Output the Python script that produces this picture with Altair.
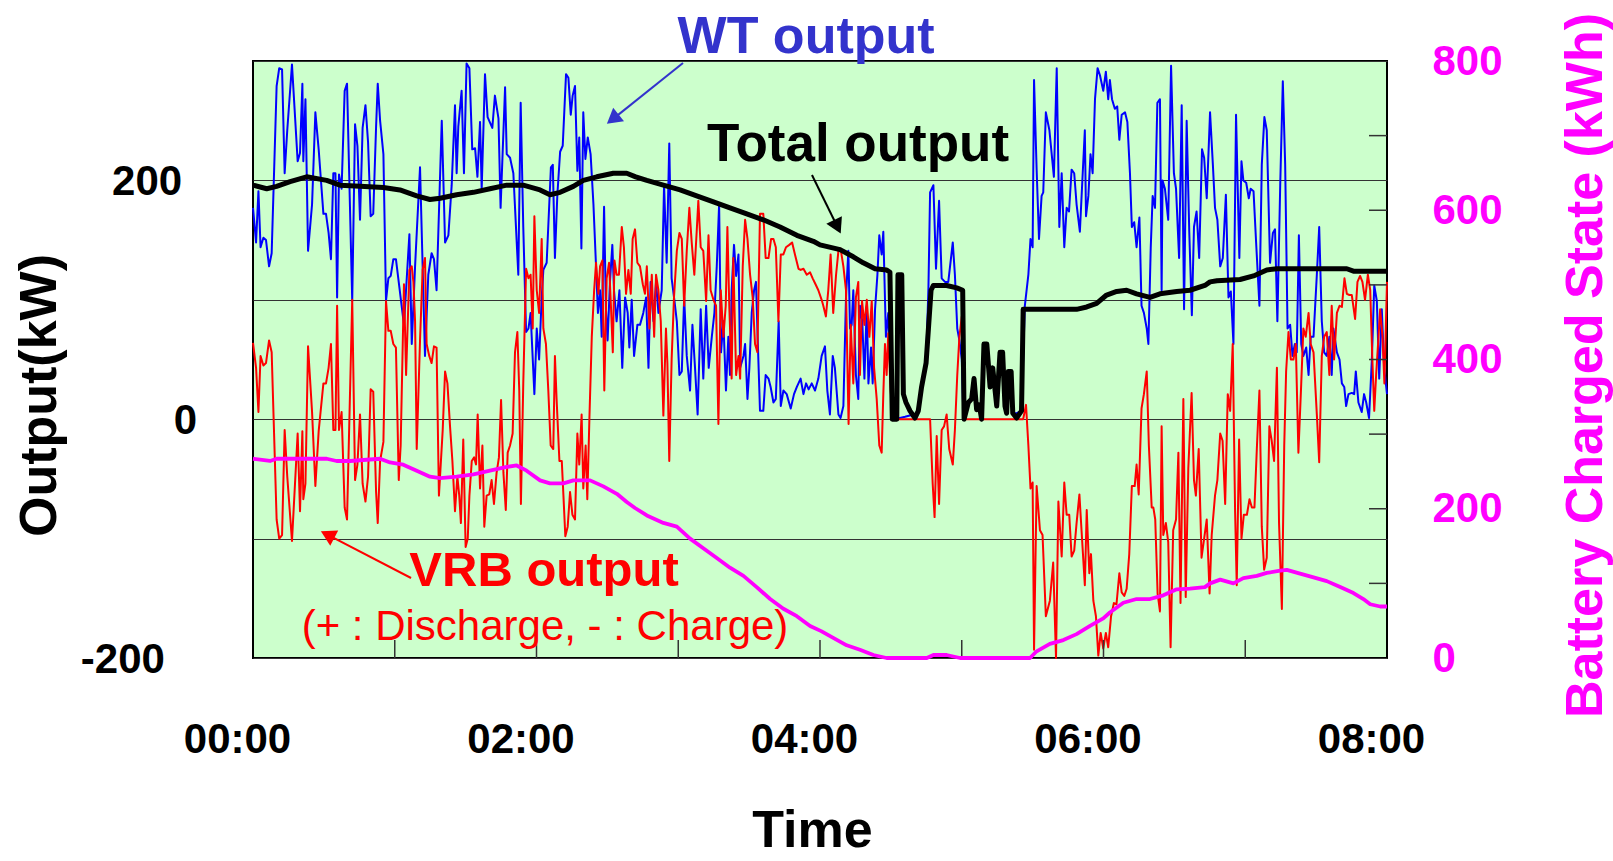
import altair as alt
import pandas as pd

# ---------------- data (time in minutes after 00:00) ----------------
WT_MIN = [0, 1.3, 2.3, 3.2, 4.4, 5.5, 6.8, 7.9, 10.0, 11.1,
          12.3, 13.4, 14.5, 16.5, 18.9, 19.9, 20.9, 21.3, 22.2, 23.3,
          25.0, 26.4, 27.8, 29.8, 30.9, 32.0, 33.0, 34.0, 34.9, 35.6,
          36.4, 37.5, 38.8, 39.8, 42.0, 43.2, 44.2, 45.3, 46.4, 47.6,
          48.7, 49.8, 50.9, 52.1, 52.8, 53.8, 55.2, 56.3, 57.3, 58.3,
          59.4, 60.5, 63.9, 66.2, 67.2, 68.6, 70.7, 72.8, 74.2, 75.6,
          76.6, 77.7, 79.9, 81.3, 82.7, 84.1, 85.5, 86.2, 86.9, 88.3,
          89.3, 90.4, 91.6, 92.8, 94.0, 95.0, 96.1, 96.8, 98.2, 99.3,
          101.3, 102.4, 103.9, 104.8, 106.7, 107.4, 108.8, 110.2, 112.3, 113.3,
          114.4, 115.6, 116.6, 117.5, 119.1, 120.1, 121.1, 122.2, 122.9, 124.3,
          126.1, 126.9, 127.8, 128.8, 130.0, 131.1, 132.5, 133.5, 134.5, 135.3,
          136.3, 137.3, 138.1, 139.0, 139.8, 140.7, 141.7, 142.9, 144.1, 145.2,
          146.0, 146.9, 147.6, 148.6, 149.4, 150.1, 151.1, 152.1, 152.8, 153.9,
          155.1, 156.3, 157.5, 158.6, 159.3, 160.3, 161.3, 162.7, 163.8, 165.2,
          166.4, 167.4, 168.3, 169.5, 170.6, 171.6, 173.0, 174.0, 175.1, 176.2,
          177.2, 178.4, 179.4, 180.5, 181.5, 182.5, 183.6, 185.0, 186.0, 187.1,
          188.2, 189.5, 190.6, 191.8, 192.9, 194.2, 195.3, 196.3, 197.3, 198.1,
          199.1, 200.2, 201.2, 201.9, 202.6, 203.6, 204.5, 205.5, 206.2, 207.6,
          208.3, 209.3, 210.1, 211.1, 212.1, 212.9, 213.6, 214.6, 216.0, 217.0,
          218.2, 219.1, 220.3, 221.3, 222.5, 223.4, 224.5, 225.9, 227.6, 229.0,
          230.2, 231.8, 233.0, 234.1, 235.2, 236.5, 237.9, 239.3, 240.7, 242.1,
          243.1, 244.2, 245.4, 246.3, 247.8, 248.7, 249.9, 251.0, 252.0, 252.7,
          253.4, 254.1, 255.2, 256.2, 256.9, 257.9, 258.8, 259.8, 260.5, 261.6,
          262.3, 263.3, 264.3, 265.1, 266.1, 266.8, 267.9, 268.9, 269.9, 270.8,
          271.7, 276.0, 281.6, 283.0, 284.9, 285.9, 286.6, 288.0, 289.1, 290.4,
          291.5, 292.9, 294.3, 296.2, 297.1, 298.1, 299.0, 300.0, 300.7, 302.8,
          304.2, 305.2, 306.3, 307.4, 308.4, 309.4, 310.6, 312.0, 313.1, 314.8,
          316.2, 317.3, 318.3, 319.7, 320.9, 321.6, 323.2, 325.3, 326.7, 328.2,
          329.1, 330.0, 330.6, 331.7, 332.7, 333.8, 334.5, 335.6, 337.1, 339.0,
          340.2, 341.3, 342.3, 343.4, 344.4, 345.4, 346.5, 347.6, 348.6, 350.0,
          351.2, 352.1, 352.6, 353.6, 354.5, 355.4, 356.4, 357.5, 358.5, 359.9,
          361.0, 362.0, 362.7, 363.6, 364.8, 365.8, 366.7, 367.7, 369.1, 370.1,
          371.2, 372.0, 373.0, 374.0, 375.2, 376.1, 377.1, 378.3, 379.0, 380.0,
          380.8, 381.8, 382.8, 383.9, 384.6, 385.0, 386.0, 387.4, 388.6, 389.8,
          390.7, 392.0, 393.1, 394.1, 395.2, 396.3, 397.4, 398.3, 399.4, 400.5,
          401.7, 402.6, 403.7, 405.1, 406.3, 407.2, 408.2, 409.4, 410.5, 411.8,
          412.9, 413.9, 415.0, 416.1, 417.5, 418.4, 419.2, 420.4, 421.5, 422.3,
          423.5, 424.6, 426.0, 427.0, 428.1, 429.1, 430.5, 431.7, 432.6, 433.6,
          434.8, 435.9, 436.9, 437.9, 439.0, 440.0, 441.0, 441.8, 442.7, 443.7,
          444.6, 445.8, 446.8, 447.7, 448.9, 450.3, 451.3, 452.4, 453.4, 454.5,
          455.6, 456.6, 457.3, 458.8, 459.9, 460.9, 461.9, 462.7, 463.7, 465.1,
          466.1, 466.8, 467.9, 469.3, 470.3, 471.2, 472.4, 473.6, 474.6, 475.7,
          476.7, 477.8, 478.8, 480.0]
WT_KW = [177, 148, 191, 144, 152, 150, 128, 139, 279, 294,
         293, 206, 242, 297, 216, 223, 281, 216, 268, 141,
         180, 257, 226, 172, 172, 156, 134, 206, 206, 102,
         205, 193, 275, 281, 99, 247, 229, 167, 244, 263,
         232, 170, 172, 245, 281, 250, 222, 99, 118, 120,
         134, 134, 79, 155, 63, 128, 211, 53, 121, 139,
         134, 108, 250, 148, 154, 196, 263, 206, 245, 275,
         206, 298, 294, 226, 227, 203, 249, 193, 289, 253,
         244, 271, 252, 177, 278, 222, 219, 206, 121, 265,
         161, 73, 76, 89, 21, 76, 50, 102, 125, 131,
         211, 213, 135, 187, 224, 229, 289, 286, 255, 271,
         279, 208, 236, 143, 257, 218, 236, 222, 180, 128,
         89, 108, 69, 178, 92, 66, 115, 146, 108, 82,
         108, 43, 102, 89, 60, 100, 53, 79, 79, 89,
         102, 43, 115, 82, 115, 89, 108, 196, 131, 231,
         118, 99, 82, 37, 40, 102, 53, 24, 79, 43,
         4, 92, 34, 95, 43, 69, 89, 128, 180, 56,
         82, 24, 69, 37, 108, 146, 120, 138, 43, 53,
         63, 17, 43, 89, 108, 115, 69, 7, 7, 37,
         34, 27, 14, 17, 82, 11, 24, 21, 9, 21,
         27, 34, 21, 30, 25, 30, 24, 34, 53, 61,
         24, 4, 53, 43, 4, 1, 11, 102, 141, 76,
         79, 108, 37, 17, 95, 82, 34, 95, 30, 60,
         30, 92, 121, 154, 138, 157, 69, 89, 34, 1,
         0, 2, 5, 27, 47, 110, 190, 196, 126, 183,
         118, 115, 115, 148, 121, 76, 66, 50, 2, 14,
         17, 34, 8, 12, 0, 63, 63, 27, 43, 11,
         56, 56, 11, 40, 40, 5, 5, 7, 95, 121,
         151, 144, 284, 209, 151, 187, 190, 257, 242, 203,
         294, 161, 206, 144, 177, 174, 209, 206, 180, 157,
         206, 242, 170, 187, 222, 206, 268, 294, 288, 275,
         291, 268, 284, 268, 260, 262, 234, 255, 257, 249,
         206, 161, 165, 144, 169, 95, 89, 76, 63, 144,
         187, 177, 265, 268, 108, 200, 193, 167, 296, 206,
         193, 135, 263, 92, 250, 157, 87, 161, 174, 135,
         226, 219, 185, 257, 213, 177, 167, 128, 135, 188,
         102, 107, 63, 255, 135, 216, 200, 198, 185, 193,
         191, 148, 95, 213, 253, 242, 131, 156, 159, 82,
         196, 283, 213, 76, 79, 53, 63, 56, 154, 63,
         53, 60, 37, 69, 69, 121, 161, 82, 56, 53,
         69, 37, 76, 56, 50, 30, 27, 11, 21, 22,
         21, 40, 14, 6, 21, 14, 1, 50, 112, 99,
         34, 92, 43, 21]

VRB_MIN = [0, 1.3, 2.3, 3.2, 4.4, 5.5, 6.8, 7.9, 10.0, 11.1,
           12.3, 13.4, 14.5, 16.5, 18.9, 19.9, 20.9, 21.3, 22.2, 23.3,
           25.0, 26.4, 27.8, 29.8, 30.9, 32.0, 33.0, 34.0, 34.9, 35.6,
           36.4, 37.5, 38.8, 39.8, 42.0, 43.2, 44.2, 45.3, 46.4, 47.6,
           48.7, 49.8, 50.9, 52.1, 52.8, 53.8, 55.2, 56.3, 57.3, 58.3,
           59.4, 60.5, 61.7, 62.5, 63.9, 64.8, 66.2, 67.2, 67.9, 68.6,
           69.3, 70.7, 71.8, 72.8, 73.5, 74.6, 75.6, 76.6, 77.7, 78.7,
           80.3, 81.3, 82.3, 83.4, 84.4, 85.5, 86.5, 87.3, 88.0, 89.0,
           90.0, 90.9, 91.6, 92.6, 93.6, 94.4, 95.1, 96.1, 97.1, 97.9,
           98.9, 100.0, 101.0, 102.0, 103.1, 104.1, 105.0, 106.0, 107.0, 107.8,
           108.8, 109.9, 110.9, 111.9, 112.7, 113.4, 114.4, 115.6, 116.6, 117.5,
           118.4, 119.1, 120.1, 121.1, 122.2, 122.9, 124.0, 125.0, 126.0, 127.1,
           127.8, 128.5, 129.7, 130.7, 131.4, 132.2, 133.2, 134.2, 135.2, 136.3,
           137.3, 138.1, 139.1, 139.8, 140.8, 141.5, 142.4, 143.4, 144.4, 145.2,
           146.2, 146.9, 147.9, 148.7, 149.7, 150.7, 151.5, 152.3, 153.0, 153.9,
           154.9, 156.1, 157.0, 157.9, 158.9, 159.9, 160.7, 161.7, 162.7, 163.8,
           165.0, 165.9, 166.7, 167.8, 168.8, 169.8, 170.6, 171.6, 172.6, 173.7,
           174.8, 175.4, 176.2, 177.2, 178.2, 179.4, 180.5, 181.5, 182.5, 183.6,
           184.7, 185.7, 186.8, 187.8, 188.5, 189.5, 190.6, 191.8, 192.8, 193.7,
           194.9, 196.0, 197.0, 198.0, 199.1, 200.1, 200.8, 201.6, 202.6, 203.3,
           204.5, 205.5, 206.2, 207.3, 208.3, 209.3, 210.4, 211.5, 212.5, 213.5,
           214.6, 216.0, 217.0, 218.2, 219.3, 220.3, 221.3, 222.4, 223.4, 224.5,
           225.6, 227.0, 228.2, 229.4, 230.9, 231.8, 233.0, 234.4, 235.8, 236.9,
           238.1, 239.3, 240.7, 241.4, 242.5, 243.5, 244.5, 245.6, 246.8, 247.8,
           248.7, 249.9, 251.0, 252.1, 253.0, 254.1, 255.2, 256.2, 256.9, 257.8,
           258.8, 259.8, 260.9, 261.9, 262.9, 264.0, 265.1, 266.1, 266.8, 267.5,
           268.2, 268.9, 269.9, 270.8, 286.6, 287.7, 288.5, 289.4, 290.4, 291.5,
           292.5, 293.6, 294.7, 296.2, 297.1, 298.1, 299.0, 300.0, 301.0, 326.0,
           327.2, 328.2, 329.1, 330.0, 330.6, 331.7, 333.1, 334.2, 335.6, 337.3,
           338.7, 339.9, 340.9, 342.3, 343.4, 344.4, 345.5, 346.5, 347.6, 348.6,
           349.8, 350.7, 352.1, 352.9, 354.0, 354.7, 355.7, 356.8, 357.8, 358.8,
           359.9, 361.0, 362.0, 363.2, 364.4, 365.5, 366.7, 367.7, 368.8, 369.8,
           370.9, 372.0, 373.2, 374.0, 374.9, 376.1, 377.1, 378.3, 379.2, 380.4,
           381.1, 381.9, 382.9, 383.9, 384.6, 385.3, 386.4, 387.4, 388.4, 389.5,
           390.7, 391.7, 392.6, 393.8, 394.8, 395.9, 397.3, 398.3, 399.1, 400.3,
           401.5, 402.6, 403.7, 404.9, 405.8, 407.2, 408.2, 409.4, 410.4, 411.5,
           412.6, 413.6, 414.7, 415.7, 416.4, 417.4, 418.4, 419.4, 420.7, 421.8,
           422.8, 423.9, 424.9, 426.0, 427.0, 428.0, 429.1, 430.2, 431.2, 432.2,
           433.4, 434.3, 435.5, 436.5, 437.3, 438.3, 439.3, 440.4, 441.4, 442.5,
           443.7, 444.6, 445.6, 446.8, 447.7, 448.9, 450.3, 451.3, 452.4, 453.4,
           454.5, 455.6, 456.6, 457.6, 458.8, 459.9, 460.9, 462.0, 463.0, 464.1,
           465.1, 466.5, 467.5, 468.6, 469.6, 470.7, 471.9, 472.9, 473.8, 474.6,
           475.4, 476.4, 477.1, 478.1, 478.9, 480.0]
VRB_KW = [64, 43, 6, 53, 45, 47, 66, 56, -84, -100,
          -97, -9, -48, -102, -12, -77, -10, -67, -54, 61,
          6, -56, -10, 30, 30, 43, 63, -9, -9, 95,
          -9, 6, -74, -84, 100, -51, -38, 4, -54, -69,
          -48, 25, 23, -61, -87, -35, -19, 99, 74, 74,
          63, 60, -51, -22, 113, 37, 125, 128, 115, 82,
          -25, 66, 125, 135, 63, 53, 47, 61, 60, -64,
          -9, 40, 30, -6, -35, -77, -48, -64, -87, -17,
          -107, -100, -64, -35, -32, -38, 4, -58, -22, -90,
          -64, -63, -51, -71, -45, -32, 16, -45, -76, -28,
          -22, -12, 56, 73, 24, -71, 30, 126, 118, 121,
          76, 170, 108, 89, 151, 76, 63, 24, -22, -25,
          53, 17, -35, -35, -64, -98, -90, -61, -80, -84,
          -12, -38, 4, -58, -22, -67, 1, 69, 108, 131,
          105, 128, 133, 24, 118, 131, 95, 56, 133, 121,
          121, 161, 144, 105, 125, 105, 151, 159, 131, 128,
          113, 105, 128, 76, 121, 69, 121, 108, 82, 3,
          76, 47, -35, 50, 102, 141, 156, 151, 95, 141,
          177, 148, 121, 157, 183, 144, 141, 99, 154, 108,
          100, 95, -4, 108, 69, 95, 161, 95, 34, 135,
          37, 53, 34, 128, 167, 151, 121, 102, 63, 56,
          172, 172, 135, 135, 151, 151, 144, 82, 138, 138,
          144, 146, 148, 138, 126, 125, 126, 121, 123, 118,
          113, 108, 100, 95, 86, 108, 138, 89, 121, 141,
          143, 128, 108, -4, 79, 30, 102, 115, 37, 99,
          79, 100, 69, 99, 43, 17, -22, -28, 21, 63,
          37, 72, 24, 0, 0, -54, -82, -14, -71, -9,
          -6, 4, -25, -38, -9, 37, 69, 86, 0, 0,
          12, -22, -58, -53, -193, -56, -93, -97, -165, -152,
          -120, -200, -69, -115, -53, -80, -80, -115, -110, -87,
          -63, -93, -139, -76, -129, -113, -152, -165, -198, -179,
          -192, -179, -191, -165, -154, -155, -129, -145, -148, -142,
          -113, -56, -56, -38, -63, 9, 21, 40, -22, -74,
          -74, -84, -146, -161, -6, -97, -87, -103, -191, -93,
          -84, -28, -154, 17, -149, -41, 22, -51, -64, -25,
          -116, -100, -84, -146, -97, -64, -51, -12, -18, -71,
          21, 7, 63, -77, -139, -17, -100, -80, -80, -67,
          -74, -74, -25, 24, -90, -126, -116, -6, -18, -35,
          43, -87, -159, -22, 40, 73, 50, 50, 63, -28,
          30, 76, 69, 89, 63, 56, 4, -36, 53, 69,
          73, 37, 95, 50, 89, 95, 94, 118, 105, 104,
          104, 84, 115, 120, 115, 100, 121, 108, 50, 7,
          37, 69, 92, 69, 30, 115]

TOTAL_MIN = [0, 5.8, 10.0, 15.7, 22.7, 31.2, 36.8, 45.3, 55.2, 62.2,
             69.3, 74.9, 79.2, 86.2, 93.3, 100.3, 107.4, 114.4, 121.5, 125.7,
             130.0, 135.6, 139.8, 145.5, 152.5, 158.2, 162.0, 166.7, 173.7, 180.8,
             187.8, 194.9, 201.9, 209.0, 216.0, 223.1, 230.2, 237.2, 240.0, 248.5,
             254.1, 258.3, 263.3, 268.2, 269.6, 270.6, 272.5, 273.0, 274.6, 275.3,
             276.4, 278.1, 280.2, 281.6, 283.0, 284.9, 285.9, 287.0, 288.0, 293.6,
             297.9, 300.4, 301.0, 302.8, 304.2, 305.2, 306.3, 307.4, 308.4, 309.4,
             310.6, 312.0, 313.1, 314.8, 316.2, 317.3, 318.3, 319.0, 319.7, 320.9,
             321.6, 323.2, 325.3, 326.0, 348.6, 352.9, 357.1, 361.3, 365.6, 369.8,
             374.0, 379.7, 383.9, 391.0, 396.6, 402.9, 405.1, 408.0, 417.8, 423.5,
             429.1, 433.4, 463.0, 465.8, 480.0]
TOTAL_KW = [196, 193, 195, 199, 203, 200, 196, 195, 194, 192,
            187, 184, 185, 188, 190, 193, 196, 196, 192, 188,
            190, 195, 200, 203, 206, 206, 203, 200, 196, 192,
            187, 182, 177, 172, 167, 161, 154, 149, 146, 142,
            136, 131, 126, 125, 123, 0, 0, 121, 121, 21,
            14, 7, 1, 7, 27, 47, 76, 108, 112, 112,
            110, 108, 0, 14, 17, 34, 8, 12, 0, 63,
            63, 27, 43, 11, 56, 56, 11, 5, 40, 40,
            5, 1, 7, 92, 92, 94, 97, 104, 107, 108,
            105, 102, 105, 107, 108, 112, 115, 116, 117, 120,
            125, 126, 126, 124, 124]

SOC_MIN = [0, 7.2, 10.0, 19.9, 31.2, 35.4, 41.1, 53.8, 58.0, 63.6,
           69.3, 74.9, 79.2, 86.2, 93.3, 100.3, 107.4, 111.6, 115.8, 121.5,
           125.7, 131.4, 135.6, 142.7, 148.3, 154.0, 158.2, 161.7, 166.7, 173.7,
           179.4, 185.0, 190.6, 196.3, 201.9, 207.6, 213.2, 218.9, 224.5, 230.2,
           235.8, 240.5, 245.6, 251.3, 256.9, 262.6, 268.2, 285.2, 288.0, 293.6,
           299.3, 328.9, 331.7, 337.3, 343.0, 348.6, 354.3, 359.9, 362.7, 368.4,
           374.0, 379.7, 385.3, 391.0, 396.6, 402.9, 405.1, 409.4, 415.0, 419.2,
           424.9, 429.1, 434.8, 437.6, 443.2, 448.9, 454.5, 460.2, 465.8, 470.0,
           472.9, 477.1, 480.0]
SOC_KWH = [267, 264, 267, 267, 267, 264, 264, 267, 262, 259,
           251, 243, 241, 243, 246, 251, 256, 258, 251, 238,
           234, 234, 238, 238, 230, 220, 209, 201, 191, 181,
           176, 160, 147, 134, 121, 110, 95, 79, 66, 56,
           43, 36, 27, 17, 11, 4, 0, 0, 4, 4,
           0, 0, 9, 19, 24, 32, 43, 53, 61, 74,
           79, 79, 84, 92, 93, 95, 100, 105, 100, 107,
           110, 114, 117, 118, 113, 108, 103, 95, 87, 79,
           72, 69, 69]

HOUR_TICKS = [60, 120, 180, 240, 300, 360, 420]
SOC_TICKS = [100, 200, 300, 400, 500, 600, 700]

# left tick labels (value, text, right-edge position in minutes left of 00:00)
LEFT_LABEL_KW = [200, 0, -200]
LEFT_LABEL_TEXT = ["200", "0", "-200"]
LEFT_LABEL_MIN = [-30.0, -23.7, -37.3]

# annotations (data coordinates: minutes, kW)
ANN_BOLD_TEXT = ["WT output", "Total output", "VRB output"]
ANN_BOLD_MIN = [234.1, 256.1, 123.2]
ANN_BOLD_KW = [306.7, 216.2, -139.7]
ANN_SUB_TEXT = ["(+ : Discharge, - : Charge)"]
ANN_SUB_MIN = [123.6]
ANN_SUB_KW = [-184.9]
ARROW_MIN0 = [182.0, 236.6, 66.9]
ARROW_KW0 = [298.3, 204.5, -133.0]
ARROW_MIN1 = [153.1, 246.9, 32.5]
ARROW_KW1 = [252.6, 163.1, -97.7]
ARROW_ANGLE = [231.3, 153.8, 297.4]

assert len(WT_MIN) == len(WT_KW), (len(WT_MIN), len(WT_KW))
assert len(VRB_MIN) == len(VRB_KW), (len(VRB_MIN), len(VRB_KW))
assert len(TOTAL_MIN) == len(TOTAL_KW)
assert len(SOC_MIN) == len(SOC_KWH)

# ---------------- styling ----------------
W, H = 1134, 597
FONT = "Liberation Sans"
BLUE, RED, MAGENTA, WTCOL = "#0000FF", "#FF0000", "#FF00FF", "#3333CC"
ANN_COLORS = [WTCOL, "#000000", RED]

x_scale = alt.Scale(domain=[0, 480], nice=False, zero=False)
yl_scale = alt.Scale(domain=[-200, 300], nice=False, zero=False)
yr_scale = alt.Scale(domain=[0, 800], nice=False, zero=False)

x_axis = alt.Axis(
    values=list(range(0, 481, 60)),
    labelExpr="datum.value % 120 == 0 ? '0' + (datum.value / 60) + ':00' : ''",
    ticks=False, domain=False, grid=False,
    labelFont=FONT, labelFontSize=42, labelFontWeight="bold", labelColor="#000000",
    labelPadding=61, labelOffset=-16, labelFlush=False, labelOverlap=False, labelBaseline="top",
    title="Time", titleFont=FONT, titleFontSize=52, titleFontWeight="bold", titleColor="#000000",
    titleX=559, titleY=188, titleAlign="center", titleBaseline="alphabetic",
)
yl_axis = alt.Axis(
    values=[-200, -100, 0, 100, 200, 300],
    labels=False, ticks=False, domain=False, grid=True,
    gridColor="#333333", gridWidth=1, gridOpacity=1,
    title="Output(kW)", titleFont=FONT, titleFontSize=52, titleFontWeight="bold", titleColor="#000000",
    titleAngle=270, titleX=-214, titleY=334, titleAlign="center", titleBaseline="middle",
)
yr_axis = alt.Axis(
    orient="right", values=[0, 200, 400, 600, 800],
    ticks=False, domain=False, grid=False,
    labelFont=FONT, labelFontSize=42, labelFontWeight="bold", labelColor=MAGENTA,
    labelPadding=45, labelFlush=False, labelOverlap=False, labelAlign="left",
    title="Battery Charged State (kWh)", titleFont=FONT, titleFontSize=52, titleFontWeight="bold",
    titleColor=MAGENTA, titleAngle=270, titleX=198, titleY=304, titleAlign="center", titleBaseline="middle",
)


def X(field):
    return alt.X(field, type="quantitative", scale=x_scale, axis=x_axis)


wt_df = pd.DataFrame({"t": WT_MIN, "kw": WT_KW})
vrb_df = pd.DataFrame({"t": VRB_MIN, "kw": VRB_KW})
tot_df = pd.DataFrame({"t": TOTAL_MIN, "kw": TOTAL_KW})
soc_df = pd.DataFrame({"t": SOC_MIN, "kwh": SOC_KWH})


def series(df, color, width, y_ax=None):
    return alt.Chart(df).mark_line(color=color, strokeWidth=width, strokeJoin="round").encode(
        x=X("t"),
        y=alt.Y("kw:Q", scale=yl_scale, axis=y_ax),
    )


wt_line = series(wt_df, BLUE, 2, yl_axis)
vrb_line = series(vrb_df, RED, 2)
tot_line = series(tot_df, "#000000", 5)

xticks = alt.Chart(pd.DataFrame({"t": HOUR_TICKS})).mark_rule(color="#333333", strokeWidth=1.5).encode(
    x=X("t"),
    y=alt.value(H), y2=alt.value(H - 18),
)

soc_line = alt.Chart(soc_df).mark_line(color=MAGENTA, strokeWidth=3.8, strokeJoin="round").encode(
    x=X("t"),
    y=alt.Y("kwh:Q", scale=yr_scale, axis=yr_axis),
)
rticks = alt.Chart(pd.DataFrame({"v": SOC_TICKS})).mark_rule(color="#333333", strokeWidth=1.5).encode(
    y=alt.Y("v:Q", scale=yr_scale, axis=None),
    x=alt.value(W), x2=alt.value(W - 18),
)

left_labels = alt.Chart(pd.DataFrame({"t": LEFT_LABEL_MIN, "kw": LEFT_LABEL_KW, "label": LEFT_LABEL_TEXT})).mark_text(
    font=FONT, fontSize=42, fontWeight="bold", color="#000000", align="right", baseline="middle", dy=2
).encode(
    x=X("t"),
    y=alt.Y("kw:Q", scale=yl_scale, axis=None),
    text="label:N",
)

arrow_df = pd.DataFrame({"t0": ARROW_MIN0, "k0": ARROW_KW0, "t1": ARROW_MIN1, "k1": ARROW_KW1,
                         "ang": ARROW_ANGLE, "c": ANN_COLORS})
arrows = alt.Chart(arrow_df).mark_rule(strokeWidth=2).encode(
    x=X("t0"), x2="t1:Q",
    y=alt.Y("k0:Q", scale=yl_scale, axis=None), y2="k1:Q",
    color=alt.Color("c:N", scale=None),
)
heads = alt.Chart(arrow_df).mark_point(shape="triangle", filled=True, size=300, opacity=1, strokeWidth=0).encode(
    x=X("t1"),
    y=alt.Y("k1:Q", scale=yl_scale, axis=None),
    angle=alt.Angle("ang:Q", scale=None),
    color=alt.Color("c:N", scale=None),
)
bold_df = pd.DataFrame({"t": ANN_BOLD_MIN, "kw": ANN_BOLD_KW, "label": ANN_BOLD_TEXT,
                        "c": ANN_COLORS, "s": [52, 53, 49]})
bold_text = alt.Chart(bold_df).mark_text(font=FONT, fontWeight="bold", align="center", baseline="alphabetic").encode(
    x=X("t"),
    y=alt.Y("kw:Q", scale=yl_scale, axis=None),
    text="label:N",
    color=alt.Color("c:N", scale=None),
    size=alt.Size("s:Q", scale=None),
)
sub_df = pd.DataFrame({"t": ANN_SUB_MIN, "kw": ANN_SUB_KW, "label": ANN_SUB_TEXT})
sub_text = alt.Chart(sub_df).mark_text(font=FONT, fontSize=42, fontWeight="normal", color=RED,
                                       align="center", baseline="alphabetic").encode(
    x=X("t"),
    y=alt.Y("kw:Q", scale=yl_scale, axis=None),
    text="label:N",
)

chart = alt.layer(
    wt_line, vrb_line, tot_line, xticks, soc_line, rticks, left_labels, arrows, heads, bold_text, sub_text
).resolve_scale(y="independent").properties(
    width=W, height=H,
    padding={"left": 253, "top": 61, "right": 226, "bottom": 200},
    autosize=alt.AutoSizeParams(type="none"),
).configure_view(fill="#CCFFCC", stroke="#000000", strokeWidth=2)

chart.save("out.html", embed_options={"renderer": "svg", "actions": False})
